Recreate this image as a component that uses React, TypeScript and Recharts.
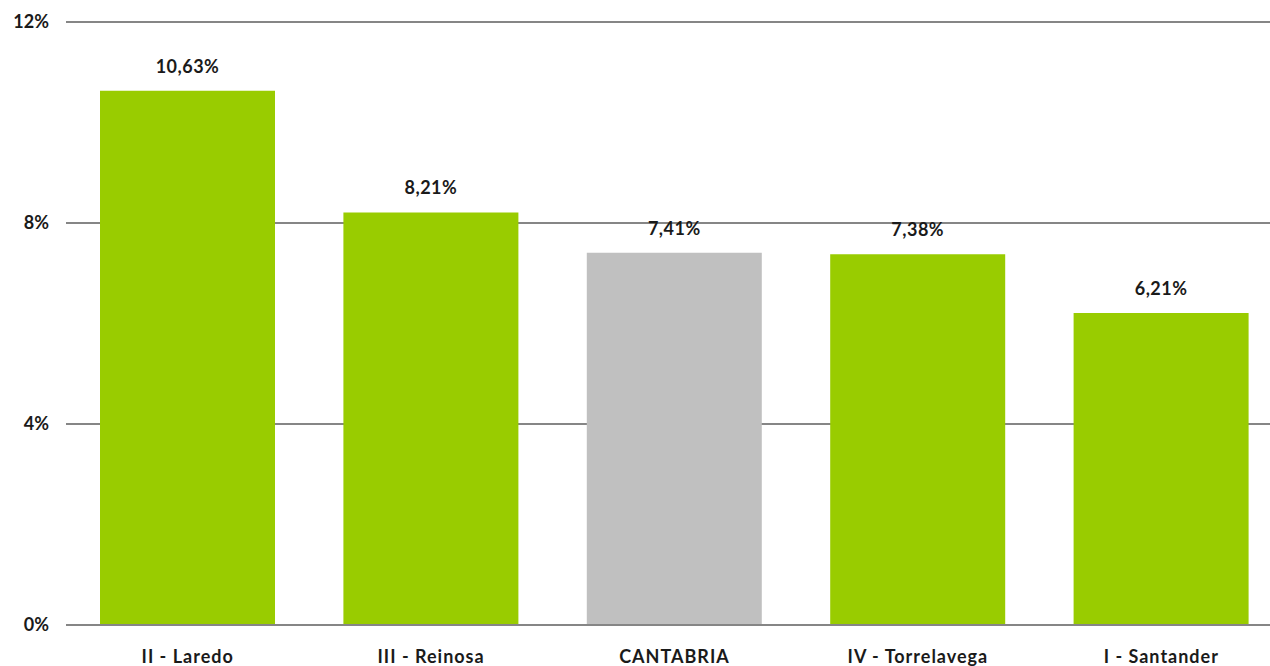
import { BarChart, Bar, XAxis, YAxis, CartesianGrid, Cell, LabelList } from 'recharts';

const categories = ['II - Laredo', 'III - Reinosa', 'CANTABRIA', 'IV - Torrelavega', 'I - Santander'];
const values = [10.63, 8.21, 7.41, 7.38, 6.21];
const barColors = ['#99CC00', '#99CC00', '#C0C0C0', '#99CC00', '#99CC00'];
const yTicks = [0, 4, 8, 12];

const data = categories.map((name, i) => ({ name, value: values[i] }));

const font = 'Lato, "Open Sans", sans-serif';
const fmtPct = (v: number) => v.toFixed(2).replace('.', ',') + '%';

export default function App() {
  return (
    <div style={{ position: 'absolute', top: 0, left: 0, width: 1270, height: 666, overflow: 'hidden', background: '#fff' }}>
      <BarChart
        width={1290}
        height={666}
        data={data}
        margin={{ top: 22, right: 7, left: 0, bottom: 0 }}
        style={{ fontFamily: font }}
      >
        <CartesianGrid vertical={false} stroke="#868686" strokeWidth={2} />
        <XAxis
          dataKey="name"
          height={41}
          axisLine={{ stroke: '#868686', strokeWidth: 2 }}
          tickLine={false}
          tickSize={6}
          tickMargin={19}
          interval={0}
          tick={{ fill: '#1a1a1a', fontSize: 18, fontWeight: 700, fontFamily: font, letterSpacing: 1 }}
        />
        <YAxis
          width={66}
          domain={[0, 12]}
          ticks={yTicks}
          axisLine={false}
          tickLine={false}
          tickSize={6}
          tickMargin={11}
          tickFormatter={(v: number) => `${v}%`}
          tick={{ fill: '#1a1a1a', fontSize: 18, fontWeight: 700, fontFamily: font }}
        />
        <Bar dataKey="value" barSize={175} isAnimationActive={false}>
          {data.map((d, i) => (
            <Cell key={d.name} fill={barColors[i]} />
          ))}
          <LabelList
            dataKey="value"
            position="top"
            offset={18}
            formatter={(v: number) => fmtPct(v)}
            style={{ fill: '#1a1a1a', fontSize: 18, fontWeight: 700, fontFamily: font, letterSpacing: 0.5 }}
          />
        </Bar>
      </BarChart>
    </div>
  );
}
